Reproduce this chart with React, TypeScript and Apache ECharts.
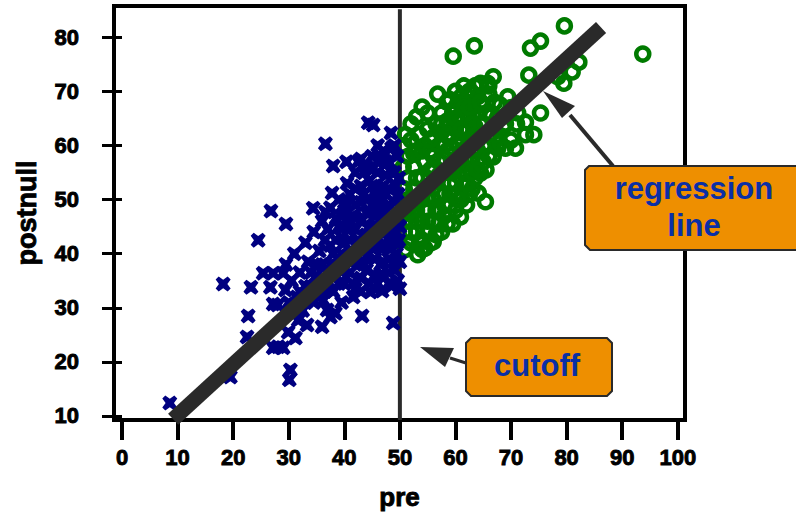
import React, { useEffect, useRef } from "react";
import * as echarts from "echarts";

const xTicks = [0, 10, 20, 30, 40, 50, 60, 70, 80, 90, 100];
const yTicks = [10, 20, 30, 40, 50, 60, 70, 80];
const cutoffLine = [[50, 9.26], [50, 85.2]];
const regressionLine = [[9.2, 9.4], [86.2, 81.8]];

const belowCutoff = [
  [44.3,64.2],[45.2,63.8],[48.4,62.3],[36.6,60.3],[38,56.2],[40.4,57],[37.8,51.2],[26.8,47.9],[34.4,48.4],[36.6,47.7],
  [29.5,45.5],[24.5,42.5],[18.2,34.4],[23.2,33.8],[26.7,33.8],[25.4,36.4],[27.2,36.4],[29,36.4],[22.7,28.5],[27.2,30.7],
  [29.4,33.3],[8.6,12.4],[30.3,18.5],[30.1,16.7],[28.1,22.8],[27.2,22.6],[29,22.6],[31.2,24.4],[29.9,25.5],[33.3,26.8],
  [36,26.5],[31.7,27.7],[38.4,29],[37.5,28.3],[43.2,28.5],[48.8,27.2],[46.8,33.1],[44.7,32.9],[41.6,32],[36.2,31.4],
  [36.9,29.6],[19.5,17.2],[22.5,24.6],
  [28,30.5],[29.5,38],[30.5,35],[30,31],[31,40],[31.5,32],[32,36.5],[32.5,29.5],[33,42],[33.5,38.5],[33,34],
  [34.5,44],[34.5,31],[35,36],[35.5,40.5],[35.5,33],[36,46],[36.5,42.5],[36,38],[37,35],[37.5,48.5],[37,44.5],
  [38,40],[38.5,46.5],[38,33],[39,50],[39,37],[39.5,43],[39.5,31],[40,47.5],[40,34.5],[40.5,53],[41,40.5],[41,51],
  [41,44.5],[41,36.5],[42,55],[42,49],[42,33.5],[42.5,42.5],[42.5,38],[43,52.5],[43,46],[43,35.5],[43.5,40.5],
  [44,56],[44,50],[44,43.5],[44,37],[44.5,34.5],[44.5,47.5],[44.5,53.5],[45,58],[45,41],[45,45],[45.5,51],[45.5,36],
  [45.5,39],[46,55],[46,48.5],[46,43],[46,34.5],[46.5,57.5],[46.5,52],[46.5,46],[46.5,38],[47,59],[47,50],[47,41],
  [47,36],[47.5,54.5],[47.5,44],[47.5,48],[48,57],[48,52],[48,39],[48,34.5],[48.5,59.5],[48.5,46],[48.5,42],
  [49,55],[49,49.5],[49,37],[49.2,52.5],[49.3,44],[49.4,40],[49.5,58],[49.5,47],[49.6,35],[49.7,51],[49.8,42.5],
  [49.8,54],[50,49],[50,45],[50,38.5],[50,33.5],[43,57.5],[41.5,47],[39.5,40],[37.5,38],[46,60],[43.5,55],[40,45],
  [42.5,57],[38,36],[36.5,33],[34,36.5],[32,33],[30.5,29],[47,47],[45,49],[48,36.5],[44,39.5],[42,44.5],[40,49.5],
  [43,49.5],[43.5,51],[44.5,45],[45,52.5],[45,55.5],[46,57],[46,50.5],[46.5,41.5],[47.5,51],[47.5,57],[48,44],
  [48,49],[48.5,55],[49,60],[49,46],[49.5,42],[47,38.5],[45.5,33.5],[43.5,38],[42,40],[41,42.5],[41,38.5],
  [40,42],[39,45],[38.5,42.5],[37.5,41.5],[37,36.5],[36,35],[35,38],[34,34],[33,31],[38,38],[40.5,49],[42,52],
  [42,46.5],[39,34.5],[40,37],[41.5,34.5],[43,33],[39.5,47],[44,47.5],[44,41.5],[45.5,47],[47,52.5],[47,44.5],
  [49,38.5],[48.5,34],[46.5,36],[46.5,48.5],[48,41]
];

const aboveCutoff = [
  [79.6,82.1],[93.7,76.9],[59.6,76.5],[63.4,78.4],[73.5,78],[75.3,79.3],[73.2,73],[82.2,75.4],[81,73.6],[79.5,71.5],
  [78.4,72.7],[56.8,69.5],[54,67.1],[53,65.3],[66.8,72.7],[65.8,71.5],[69.4,69],[75.3,66],[72.6,64.3],[74.1,62],
  [72.6,62],[68.6,63.4],[70.8,59.5],[67.6,59.5],[66.8,57.9],[65.4,49.6],[64.1,51.2],[53.2,39.8],[56,42.2],[60.9,46.8],
  [64.5,54.9],[71.2,66],[51,40.8],[52,42],[54.5,41],[57.5,44],[59.5,45.5],[62,49],[63,52],[65,57],
  [50.8,60],[50.6,56],[50.8,52],[50.5,48],[50.8,44],[51.5,58],[51.5,54],[51.5,50],[52,46],[52,61],
  [52.5,56],[52.5,52],[53,48],[53,44],[53,59],[53.5,62],[54,54],[54,50],[54,46],[54,42.5],
  [54.5,57],[54.5,60],[55,63],[55,52.5],[55,48],[55,44],[55.5,55.5],[55.5,59],[56,61.5],[56,50],
  [56,46],[56.5,64],[56.5,53.5],[57,57],[57,60],[57,48],[57,45.5],[57.5,62.5],[57.5,66],[58,55],
  [58,51],[58,47],[58.5,59],[58.5,68],[58.5,64.5],[59,61.5],[59,53],[59,49],[59.5,66],[59.5,57],
  [60,70],[60,63],[60,51],[60,48],[60.5,68],[60.5,60],[60.5,54.5],[61,65.5],[61,57],[61,50],
  [61.5,71],[61.5,62.5],[61.5,52.5],[62,68],[62,59.5],[62,55],[62.5,70],[62.5,65],[62.5,51],[63,67],
  [63,61.5],[63,57.5],[63.5,71],[63.5,63.5],[63.5,54],[64,69],[64,59],[64,66],[64.5,62],[64.5,71.5],
  [65,67.5],[65,64],[65,60],[65.5,55.5],[66,69.5],[66,62],[66,58],[66.5,65.5],[67,68],[67,61],
  [67.5,65],[68,67.5],[68,60.5],[69,64],[69,59.5],[70,67],[70,61],[71,64],[69.5,66],[66,71],
  [52,64],[55,66],[53,50],[56,56],[59,68.5],[60,67],[62,63],[64,57],[58,60],[61,69],[63,69.5],
  [51,46],[52,49],[54,40.8],[55.5,42],[56.5,43.5],[58.5,45.5],
  [51,62],[51.5,47.5],[52,44],[52.5,58.5],[53,54],[53,46],[53.5,42],[54,59],[54.5,48],[55,50.5],
  [55,46],[55.5,61],[56,58],[56.5,48],[57,51],[57,54.5],[57.5,64],[58,49],[58,57.5],[58.5,62],
  [59,51],[59,55],[59,64],[59.5,59.5],[60,53],[60,65],[60.5,50],[60.5,57],[61,59],[61,63],
  [61.5,55],[61.5,67],[62,53],[62,57],[62.5,61],[62.5,67],[63,55],[63,64],[63.5,59.5],[64,61],
  [64,55.5],[64.5,64],[64.5,68],[65,62],[65.5,66]
];

const crossSymbol = "path://M2 0L5 2.2L8 0L10 2L7.8 5L10 8L8 10L5 7.8L2 10L0 8L2.2 5L0 2Z";

function App() {
  const ref = useRef<HTMLDivElement>(null);
  useEffect(() => {
    document.body.style.margin = "0";
    const chart = echarts.init(ref.current!, null, { renderer: "svg" });
    const font = "Liberation Sans";
    const ink = "#2a2a2a";
    const orange = "#EE8F00";
    const blueText = "#0A2FA5";
    const heavy = { textBorderColor: "#000", textBorderWidth: 0.9 };
    chart.setOption({
      animation: false,
      backgroundColor: "#ffffff",
      grid: { left: 114, right: 111, top: 6, bottom: 94, show: true, outerBoundsMode: "none", borderColor: "#000", borderWidth: 4, backgroundColor: "#fff" },
      xAxis: {
        type: "value", min: -1.44, max: 101.3, name: "pre", nameLocation: "middle", nameGap: 64,
        nameTextStyle: { fontFamily: font, fontWeight: "bold", fontSize: 26, color: "#000", ...heavy },
        splitLine: { show: false }, axisLine: { show: false },
        axisTick: { show: true, length: 20, customValues: xTicks, lineStyle: { color: "#000", width: 4 } },
        axisLabel: { customValues: xTicks, margin: 26, fontFamily: font, fontWeight: "bold", fontSize: 22, color: "#000", showMinLabel: true, showMaxLabel: true, ...heavy },
      },
      yAxis: {
        type: "value", min: 9.26, max: 85.78, name: "postnull", nameLocation: "middle", nameGap: 74,
        nameTextStyle: { fontFamily: font, fontWeight: "bold", fontSize: 27, color: "#000", ...heavy },
        splitLine: { show: false }, axisLine: { show: false },
        axisTick: { show: true, length: 20, customValues: yTicks, lineStyle: { color: "#000", width: 3 } },
        axisLabel: { customValues: yTicks, margin: 35, fontFamily: font, fontWeight: "bold", fontSize: 22, color: "#000", showMinLabel: true, showMaxLabel: true, ...heavy },
      },
      series: [
        { type: "line", data: cutoffLine, symbol: "none", clip: false, z: 1, lineStyle: { color: ink, width: 4 } },
        { type: "scatter", data: aboveCutoff, symbol: "circle", symbolSize: 13, z: 2,
          itemStyle: { color: "rgba(0,0,0,0)", borderColor: "#007A00", borderWidth: 4.5, opacity: 1 } },
        { type: "scatter", data: belowCutoff, symbol: crossSymbol, symbolSize: 15, z: 3, itemStyle: { color: "#000080", opacity: 1 } },
        { type: "line", data: regressionLine, symbol: "none", z: 4, lineStyle: { color: ink, width: 15, cap: "butt" } },
      ],
      graphic: [
        { type: "polyline", z: 50, shape: { points: [[570, 115], [613, 166]] }, style: { stroke: ink, lineWidth: 4, fill: "none" } },
        { type: "polygon", z: 50, shape: { points: [[543, 91], [575, 106], [562, 118]] }, style: { fill: ink } },
        { type: "polyline", z: 50, shape: { points: [[450, 358], [466, 363]] }, style: { stroke: ink, lineWidth: 3, fill: "none" } },
        { type: "polygon", z: 50, shape: { points: [[420, 347], [454, 348], [445, 367]] }, style: { fill: ink } },
        { type: "polygon", z: 51, shape: { points: [[589, 166], [806, 166], [806, 250], [590, 250], [585, 245], [585, 170]] },
          style: { fill: orange, stroke: ink, lineWidth: 2 } },
        { type: "polygon", z: 51, shape: { points: [[471, 338], [607, 338], [612, 343], [612, 391], [607, 396], [471, 396], [466, 391], [466, 343]] },
          style: { fill: orange, stroke: ink, lineWidth: 2 } },
        { type: "text", z: 52, style: { text: "regression", x: 694, y: 188, align: "center", verticalAlign: "middle", fill: blueText, font: `bold 31px "${font}"` } },
        { type: "text", z: 52, style: { text: "line", x: 694, y: 225, align: "center", verticalAlign: "middle", fill: blueText, font: `bold 31px "${font}"` } },
        { type: "text", z: 52, style: { text: "cutoff", x: 537, y: 365, align: "center", verticalAlign: "middle", fill: blueText, font: `bold 31px "${font}"` } },
      ],
    });
    return () => chart.dispose();
  }, []);
  return <div ref={ref} style={{ position: "absolute", left: 0, top: 0, width: 796, height: 514 }} />;
}

export default App;
